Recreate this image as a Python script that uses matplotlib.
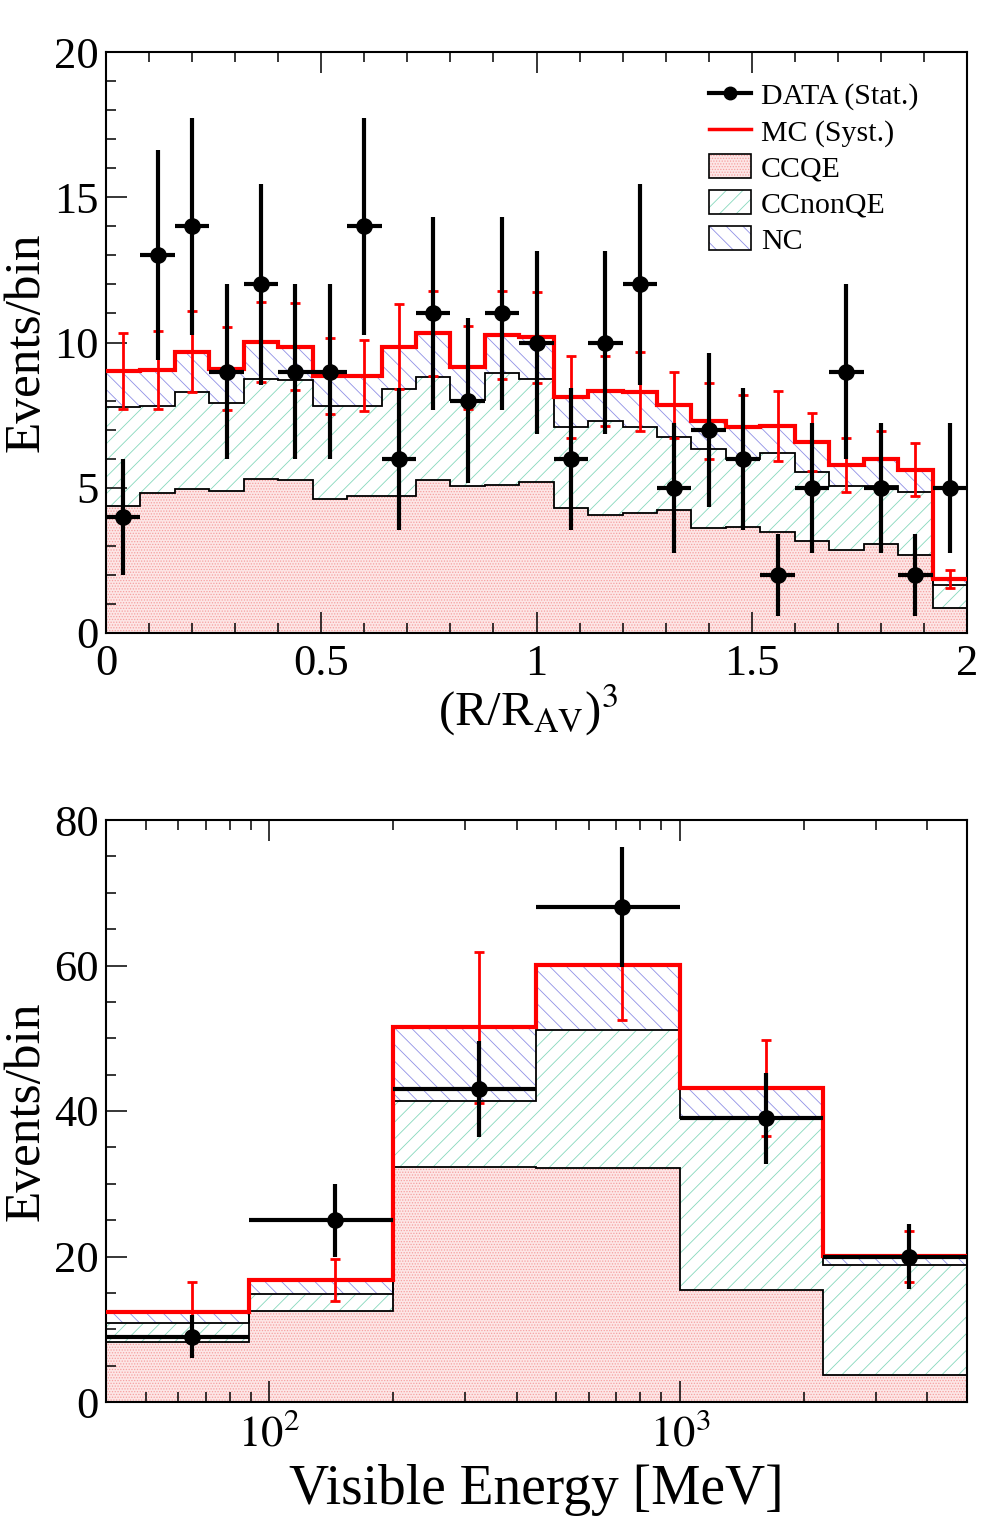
import numpy as np
import matplotlib
matplotlib.use("Agg")
import matplotlib.pyplot as plt
from matplotlib.lines import Line2D
from matplotlib.patches import Patch
from matplotlib.ticker import MultipleLocator, FixedLocator, FuncFormatter, NullFormatter

plt.rcParams['font.family'] = ['Liberation Serif', 'DejaVu Serif']
plt.rcParams['mathtext.fontset'] = 'stix'
plt.rcParams['hatch.linewidth'] = 0.6

# ---- top panel: (R/R_AV)^3 ----
r3_edges = [0.00, 0.08, 0.16, 0.24, 0.32, 0.40, 0.48, 0.56, 0.64, 0.72, 0.80, 0.88, 0.96,
            1.04, 1.12, 1.20, 1.28, 1.36, 1.44, 1.52, 1.60, 1.68, 1.76, 1.84, 1.92, 2.00]
r3_data = [4, 13, 14, 9, 12, 9, 9, 14, 6, 11, 8, 11, 10, 6, 10, 12, 5, 7, 6, 2, 5, 9, 5, 2, 5]
r3_data_err = [2.0, 3.61, 3.74, 3.0, 3.46, 3.0, 3.0, 3.74, 2.45, 3.32, 2.83, 3.32, 3.16,
               2.45, 3.16, 3.46, 2.24, 2.65, 2.45, 1.41, 2.24, 3.0, 2.24, 1.41, 2.24]
r3_ccqe = [4.37, 4.83, 4.96, 4.90, 5.29, 5.27, 4.60, 4.70, 4.70, 5.25, 5.07, 5.10, 5.20,
           4.31, 4.07, 4.14, 4.24, 3.61, 3.65, 3.48, 3.16, 2.86, 3.06, 2.69, 0.87]
r3_ccnonqe = [3.42, 2.98, 3.33, 3.02, 3.46, 3.44, 3.21, 3.11, 3.70, 3.56, 2.94, 3.84, 3.55,
              2.78, 3.23, 2.95, 2.50, 2.71, 2.34, 2.73, 2.39, 2.20, 2.00, 2.17, 0.77]
r3_nc = [1.22, 1.24, 1.40, 1.18, 1.27, 1.15, 1.03, 1.05, 1.46, 1.50, 1.13, 1.32, 1.43,
         1.03, 1.04, 1.22, 1.11, 0.98, 1.11, 0.92, 1.03, 0.72, 0.93, 0.76, 0.21]
r3_mc_err = [1.30, 1.33, 1.38, 1.43, 1.39, 1.50, 1.30, 1.22, 1.45, 1.46, 1.44, 1.50, 1.57,
             1.40, 1.20, 1.35, 1.15, 1.30, 1.10, 1.20, 1.00, 0.94, 0.95, 0.92, 0.31]

# ---- bottom panel: visible energy ----
ev_edges = [40, 89.44, 200, 447.2, 1000, 2236, 5000]
ev_data = [9, 25, 43, 68, 39, 20]
ev_data_err = [3.0, 5.0, 6.56, 8.25, 6.24, 4.47]
ev_ccqe = [8.29, 12.53, 32.3, 32.1, 15.4, 3.78]
ev_ccnonqe = [2.58, 2.33, 9.1, 19.1, 23.7, 15.12]
ev_nc = [1.56, 1.87, 10.1, 8.87, 4.0, 1.14]
ev_mc_err = [4.0, 2.9, 10.4, 7.5, 6.6, 3.5]

CCQE_STYLE = dict(facecolor='#fde6e6', edgecolor='#f5a0a0', hatch='......')
NONQE_STYLE = dict(facecolor='white', edgecolor='#86d8bc', hatch='//')
NC_STYLE = dict(facecolor='white', edgecolor='#9090e6', hatch='\\\\')


def draw_panel(ax, edges, data, data_err, ccqe, ccnonqe, nc, mc_err):
    edges = np.array(edges, dtype=float)
    lvl1 = np.array(ccqe)
    lvl2 = lvl1 + np.array(ccnonqe)
    total = lvl2 + np.array(nc)
    centers = 0.5 * (edges[:-1] + edges[1:])

    ax.stairs(lvl1, edges, baseline=0, fill=True, lw=0, **CCQE_STYLE, zorder=1)
    ax.stairs(lvl2, edges, baseline=lvl1, fill=True, lw=0, **NONQE_STYLE, zorder=1)
    ax.stairs(total, edges, baseline=lvl2, fill=True, lw=0, **NC_STYLE, zorder=1)
    ax.stairs(lvl1, edges, baseline=None, color='black', lw=1.3, zorder=2)
    ax.stairs(lvl2, edges, baseline=None, color='black', lw=1.3, zorder=2)
    ax.stairs(total, edges, baseline=None, color='red', lw=3, zorder=3)
    ax.errorbar(centers, total, yerr=mc_err, fmt='none', ecolor='red',
                elinewidth=2, capsize=3.5, capthick=2, zorder=4)
    ax.errorbar(centers, data, xerr=[centers - edges[:-1], edges[1:] - centers],
                yerr=data_err, fmt='o', color='black', ms=11, elinewidth=3,
                capsize=0, zorder=5)


def style_axes(ax):
    ax.tick_params(which='both', direction='in', top=True, right=False,
                   width=1.1, labelsize=32)
    ax.tick_params(which='major', length=15)
    ax.tick_params(which='minor', length=7.5)
    ax.tick_params(axis='x', pad=8)
    ax.tick_params(axis='y', pad=5)
    for s in ax.spines.values():
        s.set_linewidth(1.5)


fig = plt.figure(figsize=(9.88, 15.36), dpi=100)

# top
ax1 = fig.add_axes([106 / 988, 1 - 633 / 1536, 861 / 988, 581 / 1536])
draw_panel(ax1, r3_edges, r3_data, r3_data_err, r3_ccqe, r3_ccnonqe, r3_nc, r3_mc_err)
ax1.set_xlim(0, 2)
ax1.set_ylim(0, 20)
ax1.xaxis.set_major_locator(MultipleLocator(0.5))
ax1.xaxis.set_minor_locator(MultipleLocator(0.1))
ax1.yaxis.set_major_locator(MultipleLocator(5))
ax1.yaxis.set_minor_locator(MultipleLocator(1))
ax1.xaxis.set_major_formatter(FuncFormatter(lambda v, p: '%g' % v))
style_axes(ax1)
ax1.set_xlabel(r'(R/R$_{\mathrm{AV}}$)$^{3}$', fontsize=35)
ax1.xaxis.set_label_coords(0.49, -0.085)
ax1.set_ylabel('Events/bin', fontsize=37)
ax1.yaxis.set_label_coords(-0.065, 0.5)

handles = [
    Line2D([], [], color='black', marker='o', ms=9, lw=3),
    Line2D([], [], color='red', lw=2.5),
    (Patch(lw=0, **CCQE_STYLE), Patch(facecolor='none', edgecolor='black', lw=1.2)),
    (Patch(lw=0, **NONQE_STYLE), Patch(facecolor='none', edgecolor='black', lw=1.2)),
    (Patch(lw=0, **NC_STYLE), Patch(facecolor='none', edgecolor='black', lw=1.2)),
]
labels = ['DATA (Stat.)', 'MC (Syst.)', 'CCQE', 'CCnonQE', 'NC']
ax1.legend(handles, labels, loc='upper left', bbox_to_anchor=(0.70, 0.949),
           frameon=False, fontsize=21.5, handlelength=1.4, handleheight=0.85,
           handletextpad=0.35, labelspacing=0.26, borderpad=0, borderaxespad=0)

# bottom
ax2 = fig.add_axes([106 / 988, 1 - 1402 / 1536, 861 / 988, 582 / 1536])
draw_panel(ax2, ev_edges, ev_data, ev_data_err, ev_ccqe, ev_ccnonqe, ev_nc, ev_mc_err)
ax2.set_xscale('log')
ax2.set_xlim(40, 5000)
ax2.set_ylim(0, 80)
ax2.xaxis.set_major_locator(FixedLocator([100, 1000]))
ax2.xaxis.set_minor_locator(FixedLocator([50, 60, 70, 80, 90, 200, 300, 400, 500, 600, 700,
                                          800, 900, 2000, 3000, 4000]))
ax2.xaxis.set_minor_formatter(NullFormatter())
ax2.set_xticklabels([r'$10^{2}$', r'$10^{3}$'])
ax2.yaxis.set_major_locator(MultipleLocator(20))
ax2.yaxis.set_minor_locator(MultipleLocator(5))
style_axes(ax2)
ax2.set_xlabel('Visible Energy [MeV]', fontsize=40)
ax2.xaxis.set_label_coords(0.5, -0.107)
ax2.set_ylabel('Events/bin', fontsize=37)
ax2.yaxis.set_label_coords(-0.065, 0.5)

fig.savefig('out.png', dpi=100)
